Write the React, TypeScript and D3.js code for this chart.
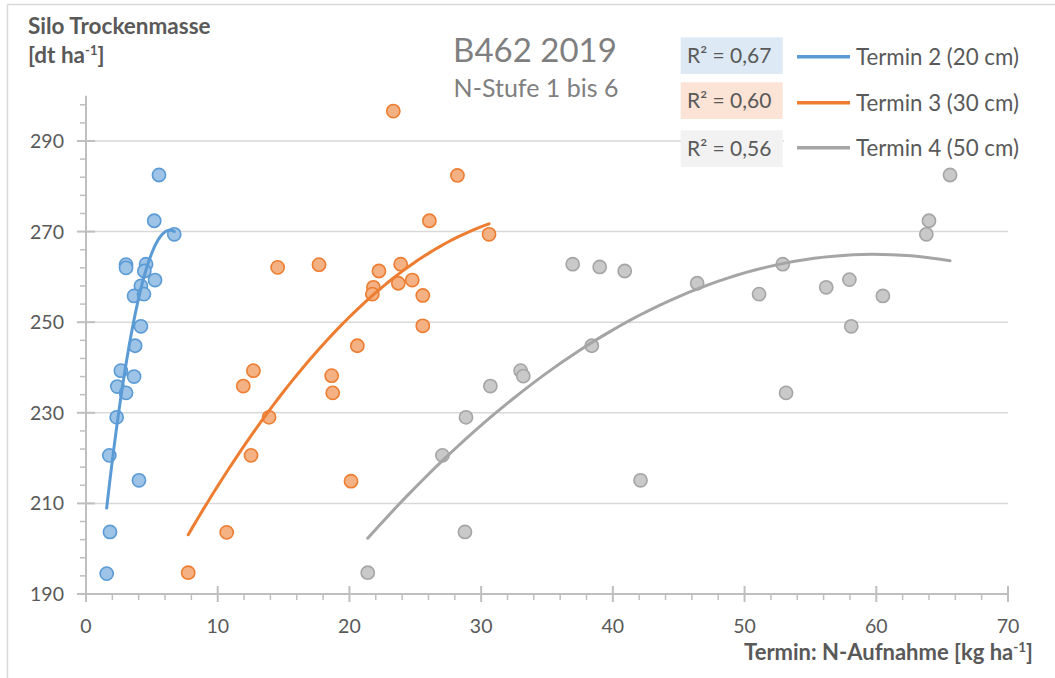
import React from "react";
import * as d3 from "d3";

// ---- data ----
const blueX = [5.54, 5.18, 6.7, 3.04, 3.04, 4.56, 4.43, 5.24, 4.17, 3.65, 4.4, 4.17, 3.73, 2.65, 3.65, 2.38, 3.04, 2.33, 1.77, 4.02, 1.82, 1.57];
const blueY = [282.5, 272.4, 269.4, 262.7, 262.0, 262.8, 261.3, 259.3, 258.0, 255.8, 256.2, 249.1, 244.8, 239.3, 238.0, 235.8, 234.4, 229.0, 220.6, 215.1, 203.7, 194.5];

const orangeX = [23.33, 28.2, 26.07, 30.6, 14.55, 17.69, 22.24, 23.89, 21.82, 21.74, 23.71, 24.77, 25.57, 25.57, 20.6, 12.71, 11.94, 18.65, 18.73, 13.9, 12.53, 20.12, 10.68, 7.76];
const orangeY = [296.6, 282.4, 272.4, 269.4, 262.1, 262.7, 261.3, 262.8, 257.7, 256.2, 258.6, 259.3, 255.9, 249.2, 244.8, 239.3, 235.9, 238.2, 234.4, 229.0, 220.6, 214.9, 203.6, 194.7];

const grayX = [36.95, 39.0, 40.9, 38.4, 33.0, 33.2, 30.7, 28.85, 27.06, 42.1, 28.77, 21.39, 65.6, 64.0, 63.8, 46.4, 52.9, 51.1, 56.2, 57.96, 60.5, 58.1, 53.15];
const grayY = [262.8, 262.2, 261.3, 244.8, 239.3, 238.1, 235.9, 229.0, 220.6, 215.1, 203.7, 194.7, 282.5, 272.4, 269.4, 258.6, 262.8, 256.2, 257.7, 259.4, 255.8, 249.1, 234.4];

// polynomial (order 2) trendline coefficients [a, b, c]: y = a + b x + c x^2
const blueTrend = [162.3, 33.9, -2.66];
const orangeTrend = [159.13, 6.3408, -0.08698];
const grayTrend = [113.14, 5.0758, -0.042419];

const seriesNames = ["Termin 2 (20 cm)", "Termin 3 (30 cm)", "Termin 4 (50 cm)"];
const r2Labels = ["R² = 0,67", "R² = 0,60", "R² = 0,56"];
const xTicks = [0, 10, 20, 30, 40, 50, 60, 70];
const yTicks = [190, 210, 230, 250, 270, 290];

const FONT = "Lato, 'Open Sans', sans-serif";
const TXT = "#595959";

const series = [
  { xs: blueX, ys: blueY, coef: blueTrend, line: "#5b9bd5", fill: "#9dc3e6", stroke: "#5b9bd5", box: "#dde9f5" },
  { xs: orangeX, ys: orangeY, coef: orangeTrend, line: "#ed7d31", fill: "#f4b183", stroke: "#ed7d31", box: "#fbe3d6" },
  { xs: grayX, ys: grayY, coef: grayTrend, line: "#a5a5a5", fill: "#c9c9c9", stroke: "#a5a5a5", box: "#f2f2f2" },
];

export default function App() {
  const W = 1055, H = 678;
  const x = d3.scaleLinear().domain([0, 70]).range([86, 1008]);
  const y = d3.scaleLinear().domain([190, 300]).range([594, 95.7]);

  const minorX = d3.range(0, 70.001, 2).filter((v) => v % 10 !== 0);
  const minorY = d3.range(190, 300.001, 4).filter((v) => (v - 190) % 20 !== 0);

  const line = d3.line<[number, number]>().x((d) => x(d[0])).y((d) => y(d[1]));

  return (
    <svg width={W} height={H} style={{ position: "absolute", left: 0, top: 0, background: "#fff" }} fontFamily={FONT}>
      <rect x={0} y={0} width={W} height={H} fill="#fff" />
      {/* frame */}
      <line x1={7.5} y1={4.5} x2={W} y2={4.5} stroke="#d9d9d9" strokeWidth={1.5} />
      <line x1={7.5} y1={4.5} x2={7.5} y2={H} stroke="#d9d9d9" strokeWidth={1.5} />

      {/* gridlines */}
      {yTicks.slice(1).map((t) => (
        <line key={"g" + t} x1={x(0)} x2={x(70)} y1={y(t)} y2={y(t)} stroke="#d9d9d9" strokeWidth={1.5} />
      ))}

      {/* y axis */}
      <line x1={x(0)} x2={x(0)} y1={y(300)} y2={y(190) + 8} stroke="#bfbfbf" strokeWidth={2} />
      {yTicks.map((t) => (
        <line key={"yt" + t} x1={x(0) - 9} x2={x(0) + 9} y1={y(t)} y2={y(t)} stroke="#bfbfbf" strokeWidth={2} />
      ))}
      {minorY.map((t) => (
        <line key={"ym" + t} x1={x(0) - 6} x2={x(0)} y1={y(t)} y2={y(t)} stroke="#bfbfbf" strokeWidth={1.5} />
      ))}
      {yTicks.map((t) => (
        <text key={"yl" + t} x={64} y={y(t) + 7} textAnchor="end" fontSize={19.5} fill={TXT}>{t}</text>
      ))}

      {/* x axis */}
      <line x1={x(0)} x2={x(70)} y1={y(190)} y2={y(190)} stroke="#bfbfbf" strokeWidth={2} />
      {xTicks.map((t) => (
        <line key={"xt" + t} x1={x(t)} x2={x(t)} y1={y(190) - 8} y2={y(190) + 8} stroke="#bfbfbf" strokeWidth={2} />
      ))}
      {minorX.map((t) => (
        <line key={"xm" + t} x1={x(t)} x2={x(t)} y1={y(190)} y2={y(190) + 6} stroke="#bfbfbf" strokeWidth={1.5} />
      ))}
      {xTicks.map((t) => (
        <text key={"xl" + t} x={x(t)} y={633} textAnchor="middle" fontSize={19.5} fill={TXT}>{t}</text>
      ))}

      {/* points */}
      {series.map((s, si) => (
        <g key={"s" + si}>
          {s.xs.map((vx, i) => (
            <circle key={i} cx={x(vx)} cy={y(s.ys[i])} r={6.6} fill={s.fill} stroke={s.stroke} strokeWidth={1.6} />
          ))}
        </g>
      ))}

      {/* trendlines */}
      {series.map((s, si) => {
        const [lo, hi] = d3.extent(s.xs) as [number, number];
        const pts: [number, number][] = d3.range(0, 61).map((k) => {
          const vx = lo + ((hi - lo) * k) / 60;
          return [vx, s.coef[0] + s.coef[1] * vx + s.coef[2] * vx * vx];
        });
        return <path key={"t" + si} d={line(pts) || ""} fill="none" stroke={s.line} strokeWidth={3} strokeLinecap="round" />;
      })}

      {/* title */}
      <text x={535} y={62} textAnchor="middle" fontSize={33} fill="#7f7f7f">B462 2019</text>
      <text x={536} y={97} textAnchor="middle" fontSize={25} fill="#7f7f7f">N-Stufe  1 bis 6</text>

      {/* R² labels */}
      {series.map((s, si) => {
        const top = [37.3, 82.3, 130.3][si];
        return (
          <g key={"r" + si}>
            <rect x={680.7} y={top} width={102} height={36.7} fill={s.box} />
            <text x={687} y={top + 26} fontSize={21} fill={TXT}>{r2Labels[si]}</text>
          </g>
        );
      })}

      {/* legend */}
      <rect x={784} y={34} width={250} height={132} fill="#fff" />
      {series.map((s, si) => {
        const ly = [56.7, 102.7, 147.7][si];
        return (
          <g key={"l" + si}>
            <line x1={797} x2={850} y1={ly} y2={ly} stroke={s.line} strokeWidth={3.5} />
            <text x={856} y={ly + 8.5} fontSize={22.3} fill={TXT}>{seriesNames[si]}</text>
          </g>
        );
      })}

      {/* axis titles */}
      <text x={28} y={34} fontSize={22.5} fontWeight="bold" fill={TXT}>Silo Trockenmasse</text>
      <text x={28} y={63} fontSize={22.5} fontWeight="bold" fill={TXT}>
        [dt ha<tspan fontSize={13} dy={-8}>-1</tspan><tspan dy={8}>]</tspan>
      </text>
      <text x={1033} y={660} textAnchor="end" fontSize={22} fontWeight="bold" fill={TXT}>
        Termin: N-Aufnahme [kg ha<tspan fontSize={13.5} dy={-8}>-1</tspan><tspan dy={8}>]</tspan>
      </text>
    </svg>
  );
}
